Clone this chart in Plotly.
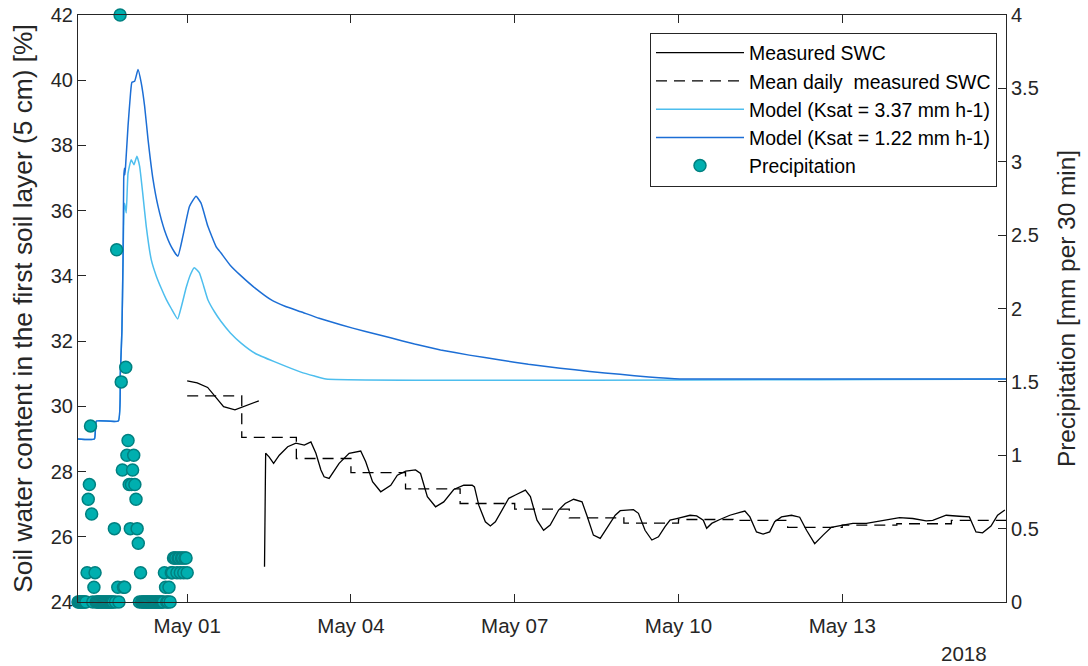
import pandas as pd
import plotly.graph_objects as go

# ---------------- data ----------------
# Precipitation (mm per 30 min), 30-min steps starting 2018-04-28 22:00
precip_start = "2018-04-28 22:00"
precip_values = [
    0, 0, 0, 0, 0, 0, 0, 0, 0, 0, 0, 0,
    0.2, 0.7, 0.8, 1.2, 0.6, 0.0, 0.1, 0.2,
    0, 0, 0, 0, 0, 0, 0, 0, 0, 0, 0, 0, 0, 0, 0, 0,
    0.5, 0.0, 2.4, 0.1, 0.0, 4.0, 1.5, 0.9, 0.1, 0.1, 1.6, 1.0, 1.1, 0.8,
    0.5, 0.8, 0.9, 1.0, 0.8, 0.7, 0.5, 0.4, 0.0, 0.2,
    0, 0, 0, 0, 0, 0, 0, 0, 0, 0, 0, 0, 0, 0, 0, 0, 0, 0, 0, 0,
    0.2, 0.1, 0.0, 0.0, 0.1, 0.0, 0.2, 0.2, 0.3, 0.3, 0.3, 0.2, 0.3,
    0.3, 0.2, 0.3, 0.3, 0.2, 0.3, 0.3, 0.2,
]

# Model SWC (%), hours since 2018-04-29 00:00
model_start = "2018-04-29 00:00"
model_fast_hours = [0, 7.2, 8.1, 17.7, 18.6, 19.3, 19.8, 20.2, 20.5, 21.2, 22.0, 23.4,
                    24.6, 25.9, 27.1, 28.6, 30.0, 32.2, 34.4, 36.6, 38.8, 41.0, 43.8, 45.6,
                    47.6, 49.5, 51.1, 53.3, 55.2, 57.1, 60.0, 62.9, 67.0, 71.7, 78.0, 86.3,
                    98.0, 104.0, 109.0, 408]
model_fast_swc = [29.0, 29.0, 29.55, 29.55, 31.0, 32.3, 34.5, 36.0, 36.23, 35.93, 37.15, 37.56,
                  37.41, 37.67, 37.36, 36.44, 35.52, 34.5, 34.0, 33.62, 33.28, 33.0, 32.68, 33.1,
                  33.65, 34.05, 34.25, 34.1, 33.7, 33.27, 32.9, 32.6, 32.25, 31.94, 31.62, 31.37,
                  31.05, 30.93, 30.84, 30.84]
model_slow_hours = [0, 7.2, 8.1, 17.7, 18.6, 19.3, 19.8, 20.1, 20.4, 20.6, 20.9, 22.0, 23.1,
                    23.7, 24.9, 26.4, 27.8, 29.3, 30.8, 33.0, 35.2, 38.0, 41.0, 43.9, 46.1,
                    49.0, 51.9, 54.1, 57.1, 60.7, 62.9, 67.0, 71.7, 78.3, 84.8, 91.0, 98.0,
                    106.0, 115.5, 126.0, 137.4, 148.0, 159.4, 172.0, 185.7, 198.0, 212.0,
                    225.0, 238.3, 251.0, 264.6, 408]
model_slow_swc = [29.0, 29.0, 29.55, 29.55, 31.0, 32.3, 34.5, 37.0, 37.3, 37.1, 37.35, 38.6, 39.6,
                  39.94, 39.97, 40.33, 39.92, 39.2, 38.18, 36.95, 36.13, 35.41, 34.9, 34.6, 35.21,
                  36.13, 36.44, 36.23, 35.52, 34.9, 34.7, 34.32, 34.0, 33.6, 33.27, 33.07, 32.9,
                  32.7, 32.5, 32.3, 32.1, 31.91, 31.73, 31.57, 31.42, 31.29, 31.17, 31.07,
                  30.98, 30.9, 30.84, 30.84]

# Measured SWC (%), hours since 2018-05-01 00:00 (None = gap)
meas_start = "2018-05-01 00:00"
meas_hours = [0, 4.4, 9, 16, 21, 24, 28, 31.5, 33,
              34, 34.5, 36, 38, 40.5, 44.2, 47.8, 51.5, 54.4, 56.6, 58.8, 60.2, 62.4,
              66.8, 71.2, 76.3, 78.5, 81.5, 85.1, 89.5, 92.4, 96.1, 100.4, 102.6, 105.6,
              109.2, 112.8, 117.2, 121.6, 125.3, 126.3, 128.2, 131.1, 133.3, 135.5, 139.2,
              141.4, 144.3, 148.7, 150.9, 153.8, 156.7, 159.6, 163.3, 166.2, 169.9, 173.6,
              175.7, 178.6, 181.6, 184.5, 188.2, 190.4, 196.2, 198.4, 201.3, 204.3, 207.2,
              210.1, 212.3, 215.2, 218.1, 221.1, 224.0, 226.9, 228.4, 230.6, 234.2, 238.6,
              243.0, 245.2, 247.4, 250.3, 253.2, 256.1, 258.3, 261.3, 265.7, 269.3, 272.3,
              275.9, 279.6, 283.2, 288.3, 292.7, 298.6, 302.9, 307.3, 313.2, 319.0, 324.9,
              327.8, 333.7, 339.5, 343.9, 346.8, 349.7, 353.4, 356.3, 359.5]
meas_swc = [30.78, 30.72, 30.58, 29.99, 29.89, 29.97, 30.09, 30.17, None,
            25.08, 28.56, 28.45, 28.25, 28.5, 28.76, 28.87, 28.81, 28.91, 28.56, 28.05, 27.84, 27.79,
            28.25, 28.56, 28.63, 28.3, 27.69, 27.38, 27.58, 27.89, 28.01, 28.05, 27.94, 27.23,
            26.92, 27.07, 27.45, 27.58, 27.58, 27.53, 26.97, 26.46, 26.33, 26.46, 26.92,
            27.18, 27.28, 27.43, 27.23, 26.51, 26.2, 26.36, 26.82, 27.02, 27.15, 27.07,
            26.66, 26.05, 25.95, 26.25, 26.66, 26.8, 26.83, 26.72, 26.2, 25.9, 26.0,
            26.31, 26.51, 26.56, 26.61, 26.66, 26.64, 26.51, 26.26, 26.41, 26.53, 26.66,
            26.75, 26.79, 26.61, 26.15, 26.08, 26.15, 26.46, 26.61, 26.66, 26.6, 26.2,
            25.79, 26.05, 26.29, 26.36, 26.41, 26.41, 26.46, 26.53, 26.59, 26.56, 26.49,
            26.5, 26.66, 26.63, 26.61, 26.15, 26.12, 26.33, 26.66, 26.82]

# Mean daily measured SWC (%)
daily_dates = ["2018-05-01", "2018-05-02", "2018-05-03", "2018-05-04", "2018-05-05",
               "2018-05-06", "2018-05-07", "2018-05-08", "2018-05-09", "2018-05-10",
               "2018-05-11", "2018-05-12", "2018-05-13", "2018-05-14", "2018-05-15",
               "2018-05-16"]
daily_swc = [30.32, 29.05, 28.4, 27.97, 27.47, 27.02, 26.85, 26.58, 26.42, 26.53,
             26.5, 26.29, 26.36, 26.4, 26.5, 26.5]

# x tick labels
x_tick_dates = ["2018-05-01", "2018-05-04", "2018-05-07", "2018-05-10", "2018-05-13"]
x_tick_text = ["May 01", "May 04", "May 07", "May 10", "May 13"]

# ---------------- build ----------------
def to_times(start, hours):
    return pd.Timestamp(start) + pd.to_timedelta(hours, unit="h")

precip_times = pd.date_range(precip_start, periods=len(precip_values), freq="30min")

FONT = "Liberation Sans, Arial, Helvetica, sans-serif"
AX = "#262626"

fig = go.Figure()
fig.add_trace(go.Scatter(x=to_times(meas_start, meas_hours), y=meas_swc, mode="lines",
                         name="Measured SWC", line=dict(color="black", width=1.3),
                         connectgaps=False))
fig.add_trace(go.Scatter(x=pd.to_datetime(daily_dates), y=daily_swc, mode="lines",
                         name="Mean daily\u00a0 measured SWC",
                         line=dict(color="black", width=1.3, dash="11px,7px", shape="hv")))
fig.add_trace(go.Scatter(x=to_times(model_start, model_fast_hours), y=model_fast_swc,
                         mode="lines", name="Model (Ksat = 3.37 mm h-1)",
                         line=dict(color="#4DBEEE", width=1.5, shape="spline", smoothing=0.4)))
fig.add_trace(go.Scatter(x=to_times(model_start, model_slow_hours), y=model_slow_swc,
                         mode="lines", name="Model (Ksat = 1.22 mm h-1)",
                         line=dict(color="#1C6ED5", width=1.5, shape="spline", smoothing=0.4)))
fig.add_trace(go.Scatter(x=precip_times, y=precip_values, mode="markers", yaxis="y2",
                         name="Precipitation", cliponaxis=False,
                         marker=dict(size=12, color="#00AFAF",
                                     line=dict(color="#008080", width=1.5))))

fig.update_layout(
    width=1088, height=666,
    margin=dict(l=78, r=82, t=15, b=64, autoexpand=False),
    paper_bgcolor="white", plot_bgcolor="white",
    font=dict(family=FONT, size=20, color=AX),
    showlegend=True,
    legend=dict(x=0.9903, xanchor="right", y=0.970, yanchor="top",
                bgcolor="white", bordercolor=AX, borderwidth=1,
                font=dict(size=19.4, color="black"), itemwidth=88,
                tracegroupgap=0),
    xaxis=dict(type="date", range=["2018-04-29 00:00", "2018-05-16 00:00"],
               tickvals=pd.to_datetime(x_tick_dates), ticktext=x_tick_text,
               ticks="inside", ticklen=8, tickcolor=AX, showline=True, linecolor=AX,
               linewidth=1, mirror="ticks", showgrid=False, zeroline=False,
               automargin=False, ticklabelstandoff=5,
               tickfont=dict(size=20.5, color=AX)),
    yaxis=dict(range=[24, 42], dtick=2, ticks="inside", ticklen=8, tickcolor=AX,
               showline=True, linecolor=AX, linewidth=1, showgrid=False, zeroline=False,
               automargin=False, tickfont=dict(size=20, color=AX),
               title=dict(text="Soil water content in the first soil layer (5 cm) [%]",
                          font=dict(size=26.3, color=AX), standoff=10)),
    yaxis2=dict(range=[0, 4], dtick=0.5, overlaying="y", side="right", ticks="inside",
                ticklen=8, tickcolor=AX, showline=True, linecolor=AX, linewidth=1,
                showgrid=False, zeroline=False, automargin=False,
                tickfont=dict(size=20, color=AX),
                title=dict(text="Precipitation [mm per 30 min]",
                           font=dict(size=24.4, color=AX), standoff=20)),
    annotations=[dict(text="2018", x=0.955, y=-0.0875, xref="paper", yref="paper",
                      showarrow=False, xanchor="center", yanchor="middle",
                      font=dict(size=20.5, color=AX))],
)

# remove the browser's default 8px body margin so the figure sits at the window origin
fig.write_html("out.html", config={"displayModeBar": False},
               post_script="document.body.style.margin='0';")
